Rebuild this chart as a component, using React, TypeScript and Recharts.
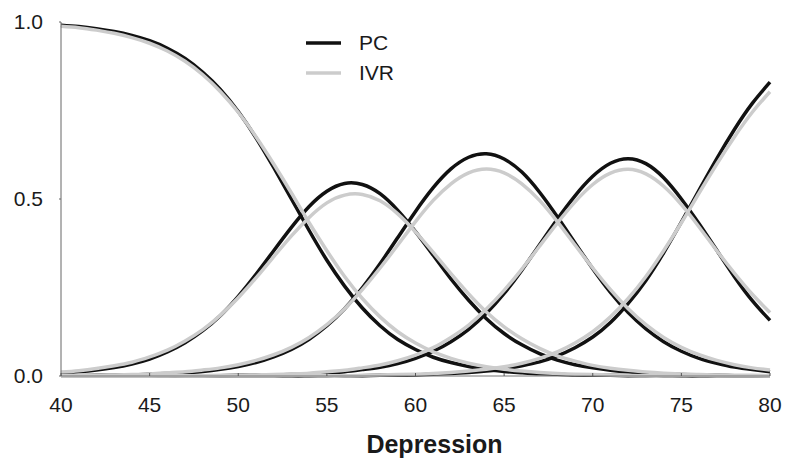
import { LineChart, Line, XAxis, YAxis, Legend } from "recharts";

// --- Data (category response curves) ---
const DEPRESSION = [
  40, 41, 42, 43, 44, 45, 46, 47, 48, 49, 50, 51, 52, 53, 54, 55, 56, 57, 58, 59, 60,
  61, 62, 63, 64, 65, 66, 67, 68, 69, 70, 71, 72, 73, 74, 75, 76, 77, 78, 79, 80,
];

const PC_CAT0 = [
  0.991, 0.987, 0.981, 0.973, 0.962, 0.947, 0.926, 0.897, 0.858, 0.809, 0.747,
  0.673, 0.589, 0.5, 0.411, 0.327, 0.254, 0.192, 0.142, 0.103, 0.075,
  0.053, 0.038, 0.027, 0.019, 0.013, 0.009, 0.006, 0.005, 0.003, 0.002,
  0.002, 0.001, 0.001, 0.001, 0, 0, 0, 0, 0, 0,
];
const PC_CAT1 = [
  0.008, 0.012, 0.017, 0.024, 0.034, 0.048, 0.068, 0.094, 0.128, 0.171, 0.225,
  0.287, 0.354, 0.42, 0.479, 0.522, 0.544, 0.541, 0.515, 0.468, 0.408,
  0.341, 0.274, 0.214, 0.162, 0.12, 0.088, 0.063, 0.045, 0.032, 0.023,
  0.016, 0.011, 0.008, 0.006, 0.004, 0.003, 0.002, 0.001, 0.001, 0.001,
];
const PC_CAT2 = [
  0.001, 0.001, 0.002, 0.002, 0.003, 0.005, 0.007, 0.009, 0.013, 0.019, 0.027,
  0.038, 0.054, 0.075, 0.104, 0.142, 0.19, 0.249, 0.317, 0.391, 0.465,
  0.532, 0.585, 0.618, 0.628, 0.613, 0.576, 0.519, 0.45, 0.376, 0.303,
  0.236, 0.179, 0.133, 0.097, 0.07, 0.05, 0.036, 0.025, 0.018, 0.012,
];
const PC_CAT3 = [
  0, 0, 0, 0, 0, 0, 0, 0.001, 0.001, 0.001, 0.002,
  0.002, 0.003, 0.004, 0.006, 0.009, 0.012, 0.018, 0.025, 0.035, 0.05,
  0.07, 0.097, 0.132, 0.177, 0.233, 0.299, 0.371, 0.443, 0.509, 0.564,
  0.601, 0.614, 0.6, 0.56, 0.5, 0.43, 0.355, 0.28, 0.213, 0.157,
];
const PC_CAT4 = [
  0, 0, 0, 0, 0, 0, 0, 0, 0, 0, 0,
  0, 0, 0, 0, 0.001, 0.001, 0.001, 0.002, 0.002, 0.003,
  0.005, 0.007, 0.01, 0.014, 0.02, 0.029, 0.04, 0.057, 0.08, 0.11,
  0.151, 0.205, 0.27, 0.348, 0.435, 0.525, 0.614, 0.697, 0.77, 0.83,
];

const IVR_CAT0 = [
  0.988, 0.984, 0.977, 0.968, 0.956, 0.94, 0.918, 0.889, 0.851, 0.803, 0.745,
  0.676, 0.599, 0.517, 0.433, 0.354, 0.281, 0.219, 0.167, 0.125, 0.093,
  0.068, 0.05, 0.036, 0.026, 0.019, 0.014, 0.01, 0.007, 0.005, 0.004,
  0.003, 0.002, 0.001, 0.001, 0.001, 0.001, 0, 0, 0, 0,
];
const IVR_CAT1 = [
  0.011, 0.015, 0.021, 0.029, 0.039, 0.054, 0.073, 0.099, 0.131, 0.172, 0.221,
  0.277, 0.337, 0.396, 0.448, 0.489, 0.511, 0.513, 0.495, 0.458, 0.407,
  0.349, 0.289, 0.232, 0.181, 0.139, 0.105, 0.078, 0.057, 0.042, 0.03,
  0.022, 0.016, 0.011, 0.008, 0.006, 0.004, 0.003, 0.002, 0.002, 0.001,
];
const IVR_CAT2 = [
  0.001, 0.002, 0.002, 0.003, 0.004, 0.006, 0.009, 0.012, 0.017, 0.023, 0.032,
  0.044, 0.06, 0.081, 0.109, 0.145, 0.19, 0.244, 0.305, 0.37, 0.436,
  0.496, 0.543, 0.574, 0.585, 0.574, 0.543, 0.496, 0.436, 0.37, 0.305,
  0.244, 0.19, 0.145, 0.109, 0.081, 0.06, 0.044, 0.032, 0.023, 0.017,
];
const IVR_CAT3 = [
  0, 0, 0, 0, 0, 0, 0.001, 0.001, 0.001, 0.002, 0.002,
  0.003, 0.004, 0.006, 0.008, 0.012, 0.016, 0.023, 0.031, 0.043, 0.059,
  0.08, 0.109, 0.144, 0.189, 0.242, 0.302, 0.367, 0.432, 0.492, 0.541,
  0.573, 0.584, 0.571, 0.536, 0.484, 0.421, 0.354, 0.29, 0.231, 0.179,
];
const IVR_CAT4 = [
  0, 0, 0, 0, 0, 0, 0, 0, 0, 0, 0,
  0, 0, 0.001, 0.001, 0.001, 0.001, 0.002, 0.003, 0.004, 0.005,
  0.007, 0.01, 0.014, 0.019, 0.026, 0.036, 0.05, 0.068, 0.093, 0.125,
  0.167, 0.219, 0.281, 0.354, 0.433, 0.517, 0.599, 0.676, 0.745, 0.803,
];

const X_TICKS = [40, 45, 50, 55, 60, 65, 70, 75, 80];
const Y_TICKS = [0, 0.5, 1];

const SERIES = [
  { name: "PC", color: "#111111", cats: [PC_CAT0, PC_CAT1, PC_CAT2, PC_CAT3, PC_CAT4] },
  { name: "IVR", color: "#cccccc", cats: [IVR_CAT0, IVR_CAT1, IVR_CAT2, IVR_CAT3, IVR_CAT4] },
];

const FONT = "'Liberation Sans', Arial, Helvetica, sans-serif";
const X_TICK_GAP = 21;

const data = DEPRESSION.map((d, i) => {
  const row: Record<string, number> = { d };
  SERIES.forEach((s) => s.cats.forEach((c, k) => (row[`${s.name}${k}`] = c[i])));
  return row;
});

// x ticks: small marks pointing up into the plot, label below
function XTick({ x, y, payload }: any) {
  return (
    <g>
      <line x1={x} x2={x} y1={y - X_TICK_GAP} y2={y - X_TICK_GAP - 3} stroke="#555" />
      <text x={x} y={y} dy="0.71em" textAnchor="middle" fontSize={21} fontFamily={FONT} fill="#1a1a1a">
        {payload.value}
      </text>
    </g>
  );
}

function AxisTitle({ viewBox }: any) {
  const { x, y, width, height } = viewBox;
  return (
    <text
      x={x + width / 2 + 19}
      y={y + height - 11}
      textAnchor="middle"
      fontSize={25}
      fontWeight="bold"
      fontFamily={FONT}
      fill="#1a1a1a"
    >
      Depression
    </text>
  );
}

function LegendBox() {
  return (
    <div style={{ fontFamily: FONT, fontSize: 21, color: "#1a1a1a" }}>
      {SERIES.map((s) => (
        <div key={s.name} style={{ display: "flex", alignItems: "center", height: 30 }}>
          <svg width={35} height={6}>
            <line x1={0} x2={35} y1={3} y2={3} stroke={s.color} strokeWidth={3.5} />
          </svg>
          <span style={{ marginLeft: 18 }}>{s.name}</span>
        </div>
      ))}
    </div>
  );
}

export default function App() {
  return (
    <div style={{ position: "absolute", left: 0, top: 0, background: "#fff" }}>
      <LineChart width={787} height={464} data={data} margin={{ top: 22, right: 17, bottom: 0, left: 0 }}>
        <XAxis
          dataKey="d"
          type="number"
          domain={[40, 80]}
          ticks={X_TICKS}
          tickLine={false}
          tickSize={0}
          tickMargin={X_TICK_GAP}
          tick={<XTick />}
          axisLine={{ stroke: "#777" }}
          height={88}
          label={<AxisTitle />}
        />
        <YAxis
          type="number"
          domain={[0, 1]}
          ticks={Y_TICKS}
          width={61}
          tickSize={2}
          tickMargin={16}
          tickFormatter={(v: number) => v.toFixed(1)}
          tick={{ fontSize: 21, fontFamily: FONT, fill: "#1a1a1a" }}
          tickLine={{ stroke: "#666" }}
          axisLine={{ stroke: "#666" }}
        />
        <Legend
          layout="vertical"
          align="center"
          verticalAlign="middle"
          wrapperStyle={{ position: "absolute", left: 306, top: 28, width: "auto" }}
          content={() => <LegendBox />}
        />
        {SERIES.map((s) =>
          s.cats.map((_, k) => (
            <Line
              key={`${s.name}${k}`}
              dataKey={`${s.name}${k}`}
              type="natural"
              stroke={s.color}
              strokeWidth={3.5}
              dot={false}
              activeDot={false}
              legendType="none"
              isAnimationActive={false}
            />
          ))
        )}
      </LineChart>
    </div>
  );
}
